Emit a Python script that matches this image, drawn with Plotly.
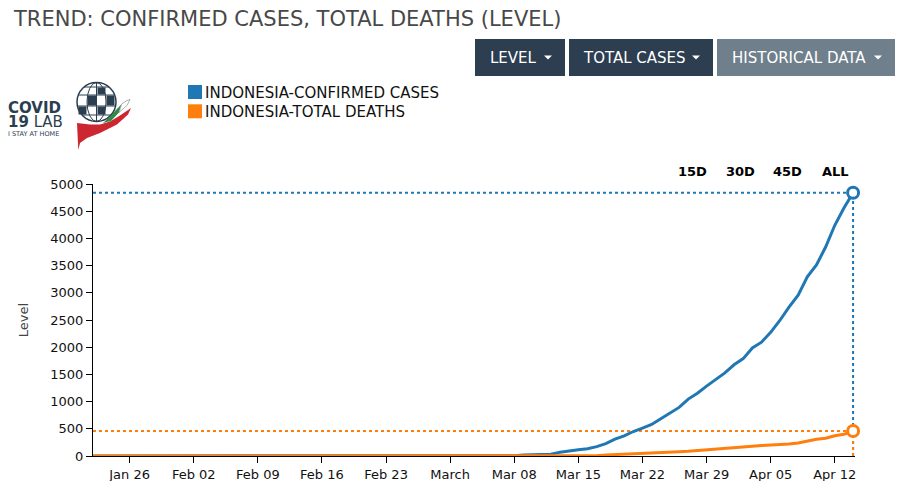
import pandas as pd
import plotly.graph_objects as go

# ---------------- data ----------------
dates = pd.date_range("2020-01-22", "2020-04-14", freq="D")
confirmed = [
    0, 0, 0, 0, 0, 0, 0, 0, 0, 0,                      # Jan 22-31
    0, 0, 0, 0, 0, 0, 0, 0, 0, 0, 0, 0, 0, 0, 0,       # Feb 1-15
    0, 0, 0, 0, 0, 0, 0, 0, 0, 0, 0, 0, 0, 0,          # Feb 16-29
    0, 2, 2, 2, 2, 4, 4, 6, 19, 27, 34, 34, 69, 96, 117, 134,
    172, 227, 309, 369, 450, 514, 579, 686, 790, 893, 1046, 1155,
    1285, 1414, 1528,                                  # Mar
    1677, 1790, 1986, 2092, 2273, 2491, 2738, 2956, 3293, 3512,
    3842, 4241, 4557, 4839,                            # Apr 1-14
]
deaths = [
    0, 0, 0, 0, 0, 0, 0, 0, 0, 0,
    0, 0, 0, 0, 0, 0, 0, 0, 0, 0, 0, 0, 0, 0, 0,
    0, 0, 0, 0, 0, 0, 0, 0, 0, 0, 0, 0, 0, 0,
    0, 0, 0, 0, 0, 0, 0, 0, 0, 0, 1, 1, 4, 5, 5, 5,
    5, 19, 25, 32, 38, 48, 49, 55, 58, 78, 87, 102,
    114, 122, 136,
    157, 170, 181, 191, 198, 209, 221, 240, 280, 306,
    327, 373, 399, 459,
]
series_names = ["INDONESIA-CONFIRMED CASES", "INDONESIA-TOTAL DEATHS"]
series_colors = ["#1f77b4", "#ff7f0e"]
tick_dates = ["2020-01-26", "2020-02-02", "2020-02-09", "2020-02-16", "2020-02-23",
              "2020-03-01", "2020-03-08", "2020-03-15", "2020-03-22", "2020-03-29",
              "2020-04-05", "2020-04-12"]
tick_labels = ["Jan 26", "Feb 02", "Feb 09", "Feb 16", "Feb 23", "March",
               "Mar 08", "Mar 15", "Mar 22", "Mar 29", "Apr 05", "Apr 12"]
y_ticks = [0, 500, 1000, 1500, 2000, 2500, 3000, 3500, 4000, 4500, 5000]
title_text = "TREND: CONFIRMED CASES, TOTAL DEATHS (LEVEL)"
buttons = ["LEVEL", "TOTAL CASES", "HISTORICAL DATA"]
range_btns = ["15D", "30D", "45D", "ALL"]

# ---------------- layout geometry ----------------
W, H = 899, 481
L, R, T, B = 93, 855, 184, 456   # plot area in pixels
x_end = pd.Timestamp("2020-04-14 05:00")


def px(x):
    return (x - L) / (R - L)


def py(y):
    return (B - y) / (B - T)


def ppath(pts):
    s = "M %f,%f" % (px(pts[0][0]), py(pts[0][1]))
    for p in pts[1:]:
        s += " L %f,%f" % (px(p[0]), py(p[1]))
    return s + " Z"


fig = go.Figure()
series = [confirmed, deaths]
for name, vals, col in zip(series_names, series, series_colors):
    fig.add_trace(go.Scatter(x=dates, y=vals, mode="lines", name=name,
                             line=dict(color=col, width=3), showlegend=False,
                             hoverinfo="x+y"))

shapes = []
ann = []

# guide lines and end markers
last_date = dates[-1]
for vals, col in zip(series, series_colors):
    v = vals[-1]
    shapes.append(dict(type="line", xref="x", yref="y", x0=dates[0], x1=last_date,
                       y0=v, y1=v, line=dict(color=col, width=2, dash="dot"), layer="below"))
    shapes.append(dict(type="line", xref="x", yref="y", x0=last_date, x1=last_date,
                       y0=0, y1=v, line=dict(color=col, width=2, dash="dot"), layer="below"))
for vals, col in zip(series, series_colors):
    fig.add_trace(go.Scatter(x=[last_date], y=[vals[-1]], mode="markers",
                             showlegend=False, hoverinfo="skip", cliponaxis=False,
                             marker=dict(size=11, color="white",
                                         line=dict(color=col, width=3))))

FONT = "DejaVu Sans"

# title
ann.append(dict(text=title_text, x=px(11), y=py(18.5), xref="paper", yref="paper",
                xanchor="left", yanchor="middle", showarrow=False,
                font=dict(family=FONT, size=21, color="#484848")))

# buttons
btn_boxes = [(475, 565, "#2c3e50", 488, 544), (569, 713, "#2c3e50", 581, 692),
             (717, 895, "#6f7f8c", 730, 874)]
for (x0, x1, c, tx, cx), label in zip(btn_boxes, buttons):
    shapes.append(dict(type="rect", xref="paper", yref="paper", x0=px(x0), x1=px(x1),
                       y0=py(76), y1=py(39), fillcolor=c, line=dict(width=0), layer="above"))
    ann.append(dict(text=label, x=px(tx), y=py(57.5), xref="paper",
                    yref="paper", showarrow=False, xanchor="left", yanchor="middle",
                    font=dict(family=FONT, size=15, color="white")))
    shapes.append(dict(type="path", xref="paper", yref="paper",
                       path=ppath([(cx, 55.5), (cx + 8, 55.5), (cx + 4, 59.5)]),
                       fillcolor="white", line=dict(width=0), layer="above"))

# legend (custom)
for i, (name, col) in enumerate(zip(series_names, series_colors)):
    yc = 92 + i * 19.3
    shapes.append(dict(type="rect", xref="paper", yref="paper", x0=px(188), x1=px(202),
                       y0=py(yc + 7), y1=py(yc - 7), fillcolor=col,
                       line=dict(width=0)))
    ann.append(dict(text=name, x=px(203), y=py(yc + 0.5), xref="paper", yref="paper",
                    showarrow=False, xanchor="left", yanchor="middle",
                    font=dict(family=FONT, size=15, color="#111111")))

# range selector labels
for label, xc in zip(range_btns, [692, 740, 787, 835]):
    ann.append(dict(text="<b>" + label + "</b>", x=px(xc), y=py(171), xref="paper",
                    yref="paper", showarrow=False, xanchor="center", yanchor="middle",
                    font=dict(family=FONT, size=13, color="#000000")))

# logo (approximation)
NAVY = "#2b3e50"
ann.append(dict(text="<b>COVID</b>", x=px(6), y=py(108), xref="paper", yref="paper",
                showarrow=False, xanchor="left", yanchor="middle",
                font=dict(family=FONT, size=15, color=NAVY)))
ann.append(dict(text="<b>19</b> LAB", x=px(6), y=py(121.5), xref="paper", yref="paper",
                showarrow=False, xanchor="left", yanchor="middle",
                font=dict(family=FONT, size=15, color=NAVY)))
ann.append(dict(text="I STAY AT HOME", x=px(6), y=py(134), xref="paper", yref="paper",
                showarrow=False, xanchor="left", yanchor="middle",
                font=dict(family=FONT, size=6.5, color=NAVY)))
# globe
gx, gy, rx, ry = 96.5, 102, 19.5, 19.5
shapes.append(dict(type="circle", xref="paper", yref="paper", x0=px(gx - rx), x1=px(gx + rx),
                   y0=py(gy + ry), y1=py(gy - ry), line=dict(color=NAVY, width=1.5),
                   fillcolor="white"))
cols = [(78, 87), (87, 97), (97, 106), (106, 115)]
rows = [(87, 95), (95, 106), (106, 115)]
for ri, (ya, yb) in enumerate(rows):
    for ci, (xa, xb) in enumerate(cols):
        if (ri + ci) % 2 == 0 and not (ri == 0 and ci == 0):
            shapes.append(dict(type="rect", xref="paper", yref="paper", x0=px(xa + 0.5),
                               x1=px(xb - 0.5), y0=py(yb - 0.5), y1=py(ya + 0.5),
                               fillcolor=NAVY, line=dict(width=0)))
for yy in [87, 95, 106, 115]:
    half = (rx ** 2 - (yy - gy) ** 2) ** 0.5
    shapes.append(dict(type="line", xref="paper", yref="paper", x0=px(gx - half),
                       x1=px(gx + half), y0=py(yy), y1=py(yy),
                       line=dict(color=NAVY, width=1)))
shapes.append(dict(type="circle", xref="paper", yref="paper", x0=px(gx - 9.5), x1=px(gx + 9.5),
                   y0=py(gy + ry), y1=py(gy - ry), line=dict(color=NAVY, width=1)))
shapes.append(dict(type="line", xref="paper", yref="paper", x0=px(gx), x1=px(gx),
                   y0=py(gy + ry), y1=py(gy - ry), line=dict(color=NAVY, width=1)))
# hand (red) and leaves
shapes.append(dict(type="path", xref="paper", yref="paper",
                   path=ppath([(77, 123), (90, 124.5), (100, 124.5), (110, 121.5), (120, 115.5),
                               (131, 108), (128, 114.5), (117, 124.5), (100, 133),
                               (87, 138), (80, 143), (78.3, 150)]),
                   fillcolor="#cc2630", line=dict(width=0)))
shapes.append(dict(type="path", xref="paper", yref="paper",
                   path=ppath([(103, 123), (110, 116.5), (115, 111), (121.7, 104),
                               (119, 112.5), (111, 121)]),
                   fillcolor="#2e8b45", line=dict(width=0)))
shapes.append(dict(type="path", xref="paper", yref="paper",
                   path=ppath([(121.7, 104), (127, 100.5), (130, 99.5), (127, 105.5),
                               (119, 112.5)]),
                   fillcolor="white", line=dict(color="#999999", width=0.8)))

fig.update_layout(
    width=W, height=H, autosize=False,
    margin=dict(l=L, r=W - R, t=T, b=H - B, pad=0, autoexpand=False),
    plot_bgcolor="white", paper_bgcolor="white",
    annotations=ann, shapes=shapes, showlegend=False,
    xaxis=dict(range=[dates[0], x_end], tickvals=pd.to_datetime(tick_dates),
               ticktext=tick_labels, showgrid=False, zeroline=False, showline=True,
               linecolor="black", linewidth=1, ticks="outside", ticklen=6,
               tickcolor="black", automargin=False,
               tickfont=dict(family="DejaVu Sans", size=13, color="#111")),
    yaxis=dict(range=[0, 5000], tickvals=y_ticks, showgrid=False, zeroline=False,
               showline=True, linecolor="black", linewidth=1, ticks="outside",
               ticklen=6, tickcolor="black", automargin=False,
               tickfont=dict(family="DejaVu Sans", size=13, color="#111"),
               title=dict(text="Level", standoff=18,
                          font=dict(family="DejaVu Sans", size=13, color="#444"))),
)

fig.write_html("out.html", config={"displayModeBar": False},
               post_script="document.body.style.margin='0';"
                           "document.body.style.overflow='hidden';")
